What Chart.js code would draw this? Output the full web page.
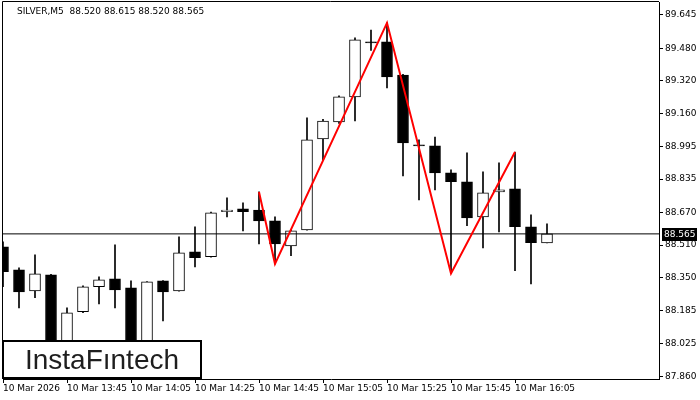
<!DOCTYPE html>
<html lang="en">
<head>
<meta charset="UTF-8">
<title>SILVER M5</title>
<script src="https://cdn.jsdelivr.net/npm/chart.js@4.4.1/dist/chart.umd.min.js"></script>
<style>
    html, body { margin: 0; padding: 0; background: #ffffff; }
    #wrap { width: 700px; height: 400px; }
</style>
</head>
<body>
<div id="wrap"><canvas id="chart" width="700" height="400"></canvas></div>
<script>
    // 5 minute bars, index 0 = 10 Mar 13:25
    const opens  = [88.501, 88.388, 88.284, 88.363, 88.003, 88.181, 88.304, 88.343, 88.299, 88.018, 88.333, 88.284, 88.476, 88.452, 88.674, 88.688, 88.683, 88.629, 88.506, 88.585, 89.034, 89.117, 89.241, 89.512, 89.512, 89.349, 89.004, 88.999, 88.866, 88.822, 88.649, 88.772, 88.787, 88.600, 88.520];
    const highs  = [88.526, 88.397, 88.462, 88.365, 88.200, 88.309, 88.353, 88.511, 88.333, 88.330, 88.335, 88.550, 88.600, 88.672, 88.743, 88.718, 88.772, 88.649, 88.585, 89.137, 89.130, 89.246, 89.532, 89.571, 89.606, 89.352, 89.029, 89.043, 88.881, 88.965, 88.871, 88.915, 88.969, 88.659, 88.615];
    const lows   = [88.304, 88.200, 88.250, 87.954, 87.969, 88.176, 88.220, 88.200, 87.954, 87.990, 88.136, 88.282, 88.402, 88.450, 88.649, 88.580, 88.516, 88.417, 88.457, 88.583, 88.930, 89.110, 89.122, 89.470, 89.285, 88.851, 88.733, 88.782, 88.370, 88.605, 88.496, 88.575, 88.383, 88.318, 88.520];
    const closes = [88.378, 88.279, 88.368, 87.993, 88.176, 88.304, 88.338, 88.289, 87.983, 88.328, 88.279, 88.471, 88.447, 88.669, 88.683, 88.674, 88.629, 88.516, 88.580, 89.029, 89.122, 89.241, 89.522, 89.507, 89.339, 89.014, 88.999, 88.866, 88.822, 88.644, 88.767, 88.782, 88.600, 88.521, 88.565];

    // red pattern line (bar index, price)
    const patternIndex = [16, 17, 24, 28, 32];
    const patternPrice = [88.772, 88.417, 89.606, 88.370, 88.969];

    const timeTickIndex = [0, 4, 8, 12, 16, 20, 24, 28, 32];
    const timeTickLabels = ['10 Mar 2026', '10 Mar 13:45', '10 Mar 14:05', '10 Mar 14:25', '10 Mar 14:45',
                            '10 Mar 15:05', '10 Mar 15:25', '10 Mar 15:45', '10 Mar 16:05'];
    const priceTickLabels = ['89.645', '89.480', '89.320', '89.160', '88.995', '88.835',
                             '88.670', '88.510', '88.350', '88.185', '88.025', '87.860'];

    const headerText = 'SILVER,M5  88.520 88.615 88.520 88.565';
    const lastPrice = closes[closes.length - 1];
    const smallFont = 'DejaVu Sans';

    const bodyColors = opens.map((o, i) => closes[i] < o ? '#000000' : '#ffffff');

    const chartDecor = {
        id: 'chartDecor',
        afterDraw(chart) {
            const ctx = chart.ctx;
            const area = chart.chartArea;
            const y = chart.scales.y;
            ctx.save();

            // left + top frame
            ctx.strokeStyle = '#000';
            ctx.lineWidth = 1;
            ctx.beginPath();
            ctx.moveTo(area.left - 0.5, area.bottom);
            ctx.lineTo(area.left - 0.5, area.top - 0.5);
            ctx.lineTo(area.right, area.top - 0.5);
            ctx.stroke();

            // header
            ctx.fillStyle = '#000';
            ctx.font = '9px "' + smallFont + '"';
            ctx.textBaseline = 'alphabetic';
            ctx.textAlign = 'left';
            ctx.fillText(headerText, 17, 14);

            // last price tag on the axis
            const py = Math.round(y.getPixelForValue(lastPrice));
            ctx.fillStyle = '#000';
            ctx.fillRect(area.right + 3, py - 6, 35, 13);
            ctx.fillStyle = '#fff';
            ctx.textBaseline = 'middle';
            ctx.fillText(lastPrice.toFixed(3), area.right + 5, py + 1);

            // logo
            ctx.fillStyle = '#fff';
            ctx.fillRect(3, 340, 198, 38);
            ctx.strokeStyle = '#000';
            ctx.lineWidth = 2;
            ctx.strokeRect(3, 341, 198, 37);
            ctx.fillStyle = '#1e1e1e';
            ctx.font = '28px "Liberation Sans"';
            ctx.textAlign = 'center';
            ctx.textBaseline = 'alphabetic';
            ctx.fillText('InstaF\u0131ntech', 102, 369);
            ctx.restore();
        }
    };

    const ctx = document.getElementById('chart').getContext('2d');
    new Chart(ctx, {
        type: 'bar',
        data: {
            datasets: [
                {
                    type: 'line',
                    label: 'pattern',
                    data: patternIndex.map((x, i) => ({ x: x, y: patternPrice[i] })),
                    borderColor: '#ff0000',
                    borderWidth: 2,
                    pointRadius: 0,
                    tension: 0,
                    order: 0
                },
                {
                    type: 'line',
                    label: 'last',
                    data: [{ x: 0, y: lastPrice }, { x: 41, y: lastPrice }],
                    borderColor: '#000000',
                    borderWidth: 1,
                    pointRadius: 0,
                    order: 1
                },
                {
                    label: 'bodies',
                    data: opens.map((o, i) => ({ x: i, y: [Math.min(o, closes[i]), Math.max(o, closes[i])] })),
                    backgroundColor: bodyColors,
                    borderColor: '#000000',
                    borderWidth: 1,
                    borderSkipped: false,
                    barThickness: 11,
                    grouped: false,
                    order: 2
                },
                {
                    label: 'wicks',
                    data: lows.map((l, i) => ({ x: i, y: [l, highs[i]] })),
                    backgroundColor: '#000000',
                    borderWidth: 0,
                    barThickness: 1,
                    grouped: false,
                    order: 3
                }
            ]
        },
        options: {
            responsive: false,
            animation: false,
            layout: { padding: { left: 3, top: 2, right: 0, bottom: 0 } },
            plugins: {
                legend: { display: false },
                tooltip: { enabled: false }
            },
            scales: {
                x: {
                    type: 'linear',
                    position: 'bottom',
                    offset: false,
                    min: 0,
                    max: 41,
                    afterFit: (s) => { s.height = 21; s.paddingLeft = 0; s.paddingRight = 0; },
                    afterBuildTicks: (s) => { s.ticks = timeTickIndex.map(v => ({ value: v })); },
                    grid: { offset: false, drawOnChartArea: false, drawTicks: true, tickLength: 4, color: '#000' },
                    border: { display: true, color: '#000', width: 1 },
                    ticks: {
                        autoSkip: false,
                        maxRotation: 0,
                        align: 'start',
                        padding: 0,
                        color: '#000',
                        font: { family: smallFont, size: 9 },
                        callback: (v, i) => timeTickLabels[i]
                    }
                },
                y: {
                    position: 'right',
                    min: 87.849,
                    max: 89.709,
                    afterFit: (s) => { s.width = 41; s.paddingTop = 0; s.paddingBottom = 0; },
                    afterBuildTicks: (s) => { s.ticks = priceTickLabels.map(t => ({ value: parseFloat(t) })); },
                    grid: { drawOnChartArea: false, drawTicks: true, tickLength: 4, color: '#000' },
                    border: { display: true, color: '#000', width: 1 },
                    ticks: {
                        padding: 2,
                        color: '#000',
                        font: { family: smallFont, size: 9 },
                        callback: (v, i) => priceTickLabels[i]
                    }
                }
            }
        },
        plugins: [chartDecor]
    });
</script>
</body>
</html>
